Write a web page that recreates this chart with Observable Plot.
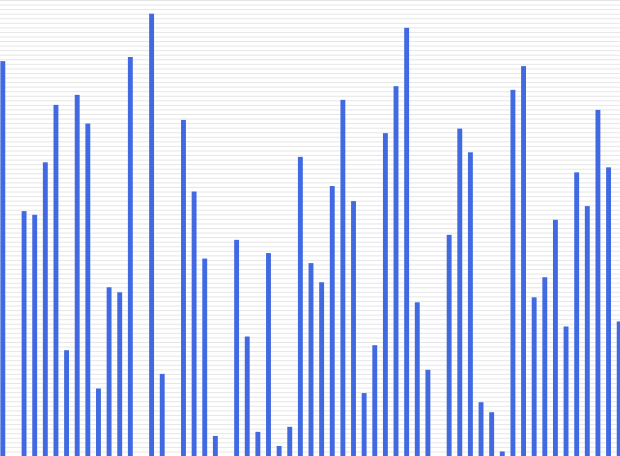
<!DOCTYPE html>
<html>
<head>
<meta charset="utf-8">
<script src="https://cdn.jsdelivr.net/npm/d3@7"></script>
<script src="https://cdn.jsdelivr.net/npm/@observablehq/plot@0.6"></script>
<style>
  html, body { margin: 0; padding: 0; background: #fff; overflow: hidden; }
  #chart svg { display: block; }
</style>
</head>
<body>
<div id="chart"></div>
<script>
const categories = d3.range(0, 59);
const values = [
  86.6, 0, 53.7, 52.9, 64.4, 77.0, 23.2, 79.2, 72.9, 14.8,
  37.0, 35.9, 87.5, 0, 97.0, 18.0, 0, 73.7, 58.0, 43.3,
  4.4, 0, 47.4, 26.2, 5.3, 44.5, 2.2, 6.4, 65.6, 42.3,
  38.1, 59.2, 78.1, 55.9, 13.8, 24.3, 70.8, 81.1, 93.9, 33.7,
  18.9, 0, 48.5, 71.8, 66.6, 11.8, 9.6, 1.0, 80.3, 85.5,
  34.8, 39.2, 51.8, 28.4, 62.2, 54.8, 75.9, 63.3, 29.5
];
const gridTicks = d3.range(0, 101, 1);

const data = categories.map((c, i) => ({category: c, value: values[i]}));

const chart = Plot.plot({
  width: 620,
  height: 456,
  marginTop: 0,
  marginRight: 0,
  marginBottom: 0,
  marginLeft: 0,
  x: {type: "band", domain: categories, range: [-2.5, 624.5], paddingInner: 0.54, paddingOuter: 0.27, axis: null},
  y: {domain: [0, 100], axis: null},
  marks: [
    Plot.gridY(gridTicks, {stroke: "currentColor", strokeOpacity: 0.1}),
    Plot.barY(data, {x: "category", y: "value", fill: "#4169e1"})
  ]
});
document.getElementById("chart").appendChild(chart);
</script>
</body>
</html>
